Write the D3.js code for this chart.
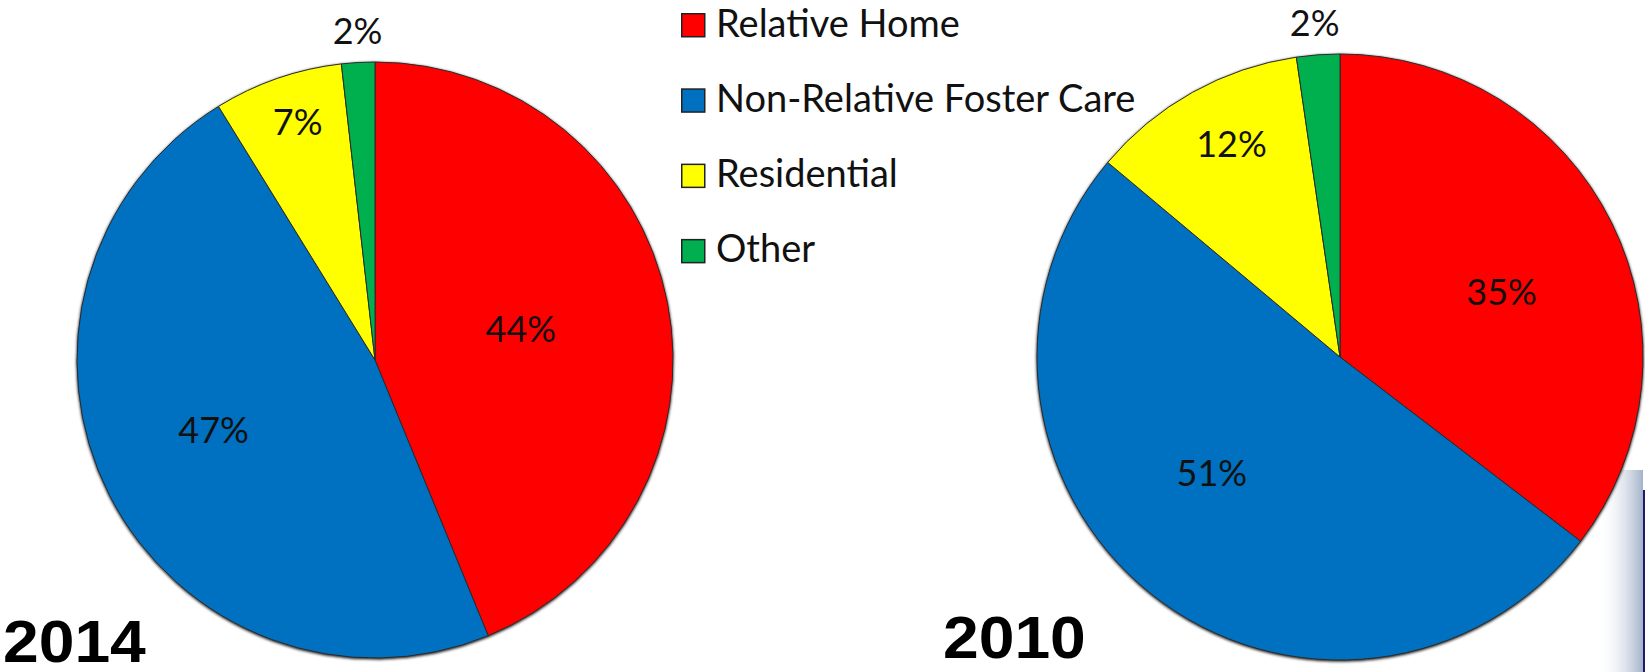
<!DOCTYPE html>
<html>
<head>
<meta charset="utf-8">
<script src="https://cdn.jsdelivr.net/npm/d3@7"></script>
<style>
  html, body { margin: 0; padding: 0; background: #fff; }
  svg { display: block; }
</style>
</head>
<body>
<svg></svg>
<script>
// chart data (shares in percent, labels are rounded)
const categories = ['Relative Home', 'Non-Relative Foster Care', 'Residential', 'Other']
const colors = ['#ff0000', '#0070c0', '#ffff00', '#00b050']
const years = ['2014', '2010']
const values2014 = [43.8, 47.4, 7.0, 1.8]
const values2010 = [35.4, 50.7, 11.6, 2.3]

const Width = 1645
const Height = 672
const svg = d3.select('svg').attr('width', Width).attr('height', Height)

// slide decoration on the right edge
const defs = svg.append('defs')
const grad = defs.append('linearGradient').attr('id', 'edgeShade')
grad.append('stop').attr('offset', '0%').attr('stop-color', '#fff').attr('stop-opacity', 0)
grad.append('stop').attr('offset', '100%').attr('stop-color', '#9aaac4').attr('stop-opacity', 0.9)
svg.append('rect').attr('x', 1598).attr('y', 470).attr('width', 45).attr('height', 202).attr('fill', 'url(#edgeShade)')
svg.append('rect').attr('x', 1643).attr('y', 490).attr('width', 2).attr('height', 182).attr('fill', '#1f1a6e')

const shadow = defs.append('filter').attr('id', 'pieShadow')
  .attr('x', '-10%').attr('y', '-10%').attr('width', '120%').attr('height', '120%')
shadow.append('feGaussianBlur').attr('in', 'SourceAlpha').attr('stdDeviation', 1.5)
shadow.append('feOffset').attr('dx', 0).attr('dy', 1).attr('result', 'blur')
const merge = shadow.append('feMerge')
merge.append('feMergeNode').attr('in', 'blur')
merge.append('feMergeNode').attr('in', 'SourceGraphic')

// pies: center, radius, label placement [radius factor, angle nudge in degrees]
const pies = [
  { year: years[0], values: values2014, cx: 375, cy: 360, r: 298,
    labels: [[0.5, -0.7], [0.59, 3.6], [0.84, 1.1], [1.105, 0.2]],
    yearX: 3, yearY: 662 },
  { year: years[1], values: values2010, cx: 1340, cy: 357, r: 303,
    labels: [[0.575, 4.4], [0.57, 9.2], [0.79, 2.2], [1.105, -0.2]],
    yearX: 943, yearY: 658 }
]

const pie = d3.pie().sort(null).value(d => d)

pies.forEach(function (p) {
  const g = svg.append('g').attr('transform', `translate(${p.cx},${p.cy})`)
  const arc = d3.arc().innerRadius(0).outerRadius(p.r)
  const arcs = pie(p.values)

  g.append('g').attr('filter', 'url(#pieShadow)')
    .selectAll('path').data(arcs).enter().append('path')
    .attr('d', arc)
    .attr('fill', (d, i) => colors[i])
    .attr('stroke', '#2b2b2b')
    .attr('stroke-width', 1)
    .attr('stroke-linejoin', 'round')

  g.selectAll('text.pct').data(arcs).enter().append('text')
    .attr('class', 'pct')
    .attr('transform', function (d, i) {
      const mid = (d.startAngle + d.endAngle) / 2 + p.labels[i][1] * Math.PI / 180
      const rr = p.r * p.labels[i][0]
      return `translate(${Math.sin(mid) * rr},${-Math.cos(mid) * rr})`
    })
    .attr('text-anchor', 'middle')
    .attr('dy', '0.36em')
    .style('font-family', 'Lato, "Open Sans", sans-serif')
    .style('font-size', '36px')
    .attr('fill', '#111')
    .text(d => Math.round(d.data) + '%')

  svg.append('text')
    .attr('transform', `translate(${p.yearX},${p.yearY}) scale(1.07,1)`)
    .style('font-family', '"Liberation Sans", Arial, sans-serif')
    .style('font-weight', 'bold')
    .style('font-size', '60px')
    .attr('fill', '#000')
    .text(p.year)
})

// legend
const legend = svg.append('g').attr('transform', 'translate(681,13)')
const item = legend.selectAll('g').data(categories).enter().append('g')
  .attr('transform', (d, i) => `translate(0,${i * 75.3})`)
item.append('rect')
  .attr('x', 0.75).attr('y', 0.75).attr('width', 23).attr('height', 23)
  .attr('fill', (d, i) => colors[i])
  .attr('stroke', '#222').attr('stroke-width', 1.5)
item.append('text')
  .attr('x', 35).attr('y', 23.5)
  .style('font-family', 'Lato, "Open Sans", sans-serif')
  .style('font-size', '38px')
  .attr('fill', '#111')
  .text(d => d)
</script>
</body>
</html>
